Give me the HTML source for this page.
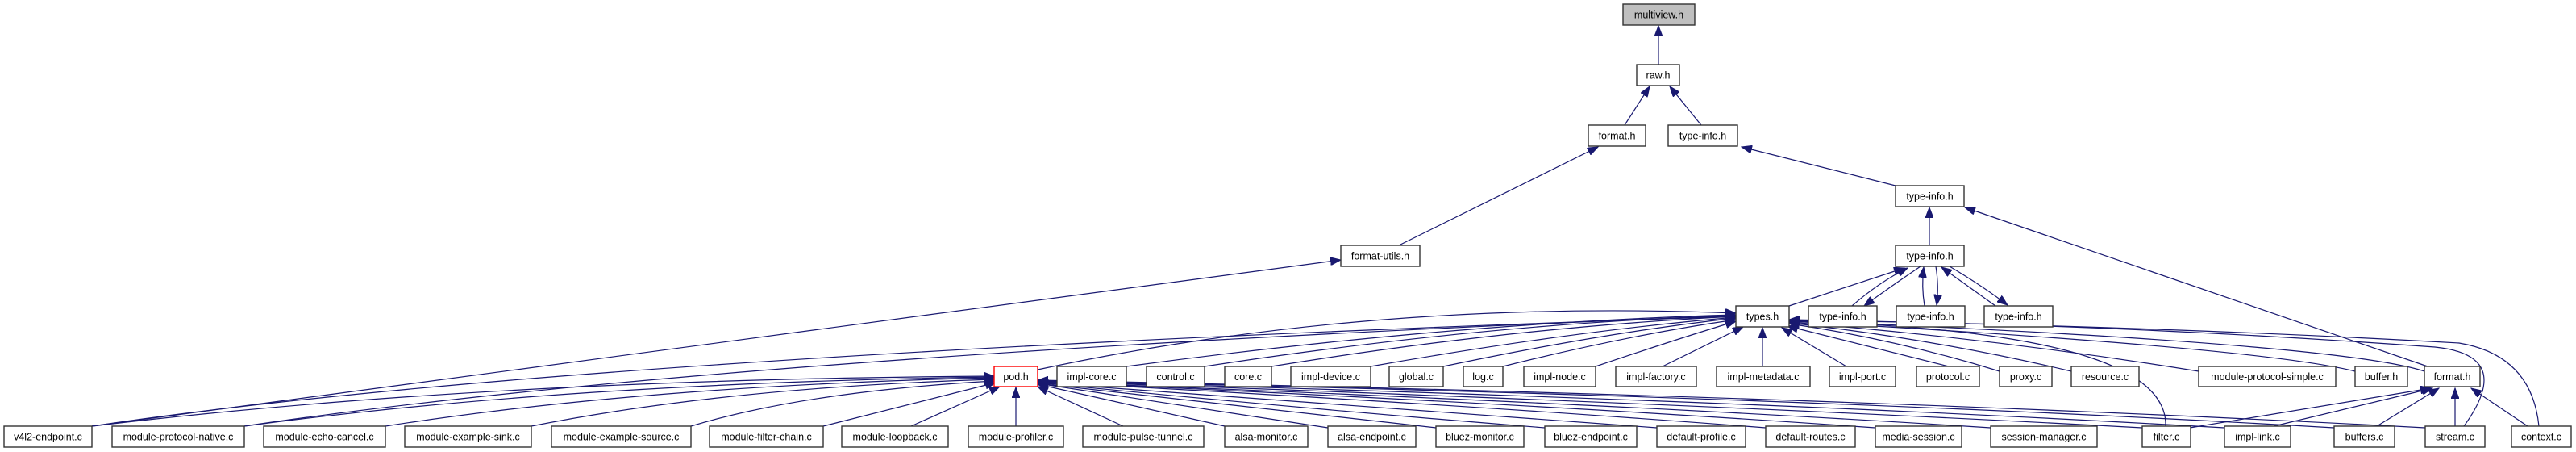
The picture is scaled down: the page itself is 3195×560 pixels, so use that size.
<!DOCTYPE html>
<html><head><meta charset="utf-8">
<style>
html,body{margin:0;padding:0;background:#fff;}
svg{display:block;}
text{font-family:"Liberation Sans",sans-serif;font-size:12.5px;fill:#000;text-anchor:middle;}
.n{fill:#fff;stroke:#333;stroke-width:1.4;}
.e{fill:none;stroke:#191970;stroke-width:1.2;}
</style></head><body>
<svg width="3195" height="560" viewBox="0 0 3195 560" xmlns="http://www.w3.org/2000/svg">
<defs>
<marker id="a" markerUnits="userSpaceOnUse" markerWidth="14" markerHeight="10" refX="13" refY="5" orient="auto">
<path d="M0,0 L13,5 L0,10 z" fill="#191970" stroke="#191970"/>
</marker>
</defs>
<g class="e" marker-end="url(#a)">
<!-- top -->
<path d="M2057,80 L2057,32"/>
<path d="M2015,155 L2046,107"/>
<path d="M2110,155 L2071,107"/>
<path d="M1735,304 L1982,182"/>
<path d="M2351,230 L2160,182"/>
<path d="M2393,304 L2393,257"/>
<path d="M3011,454 L2437,257"/>
<!-- types/type-info cluster -->
<path d="M2219,379 L2362,332"/>
<path d="M2297,379 Q2330,350 2366,332"/>
<path d="M2382,330 Q2345,355 2312,379"/>
<path d="M2387,379 Q2383,355 2386,331"/>
<path d="M2401,330 Q2405,355 2402,378"/>
<path d="M2475,379 L2408,331"/>
<path d="M2418,330 Q2460,355 2490,378"/>
<!-- pod -> types -->
<path d="M1287,458 Q1700,370 2153,388"/>
<!-- row7 -> types -->
<path d="M1397,454 Q1800,400 2153,390"/>
<path d="M1494,454 Q1850,400 2153,391"/>
<path d="M1577,454 Q1880,405 2153,392"/>
<path d="M1700,454 Q1950,410 2153,393"/>
<path d="M1790,454 Q1990,412 2153,394"/>
<path d="M1864,454 Q2020,415 2153,396"/>
<path d="M1979,454 Q2080,420 2153,398"/>
<path d="M2062,454 L2162,405"/>
<path d="M2186,454 L2186,406"/>
<path d="M2290,454 L2210,406"/>
<path d="M2417,454 L2217,404"/>
<path d="M2480,460 Q2350,420 2219,401"/>
<path d="M2569,460 Q2400,420 2219,400"/>
<path d="M2727,460 Q2480,420 2219,399"/>
<path d="M2921,460 Q2800,430 2219,398"/>
<path d="M3007,460 Q2900,425 2219,397"/>
<!-- bottom curves to types -->
<path d="M2686,528 Q2690,410 2219,398"/>
<path d="M3056,528 Q3120,440 3020,430 Q2600,400 2219,397"/>
<path d="M3149,528 Q3140,440 3050,425 Q2700,405 2219,396"/>
<path d="M114,528 Q700,440 2153,392"/>
<path d="M303,528 Q900,440 2153,391"/>
<!-- format-utils -->
<path d="M114,528 L1663,322"/>
<!-- bottom left -> pod -->
<path d="M114,528 Q600,470 1233,466"/>
<path d="M303,528 Q700,475 1233,467"/>
<path d="M478,528 Q800,478 1233,468"/>
<path d="M659,528 Q900,480 1233,470"/>
<path d="M857,528 Q1000,485 1233,472"/>
<path d="M1021,528 L1235,474"/>
<path d="M1130,528 L1240,479"/>
<path d="M1260,528 L1260,480"/>
<path d="M1393,528 L1287,479"/>
<!-- bottom right -> pod -->
<path d="M1519,528 L1287,476"/>
<path d="M1647,530 Q1450,500 1287,475"/>
<path d="M1781,530 Q1550,505 1287,475"/>
<path d="M1916,530 Q1600,505 1287,474"/>
<path d="M2055,530 Q1700,505 1287,474"/>
<path d="M2190,530 Q1800,500 1287,473"/>
<path d="M2326,530 Q1900,500 1287,473"/>
<path d="M2469,530 Q2000,500 1287,473"/>
<path d="M2657,530 Q2100,500 1287,472"/>
<path d="M2759,530 Q2150,495 1287,472"/>
<path d="M2895,530 Q2200,490 1287,472"/>
<path d="M3008,530 Q2250,490 1287,471"/>
<!-- -> format.h row7 -->
<path d="M2716,530 L3015,481"/>
<path d="M2820,528 L3017,481"/>
<path d="M2948,528 L3025,481"/>
<path d="M3045,528 L3045,481"/>
<path d="M3135,528 L3065,481"/>
</g>
<g>
<rect class="n" x="2013" y="5" width="89" height="26" style="fill:#bfbfbf"/><text x="2057.5" y="22.5">multiview.h</text>
<rect class="n" x="2030" y="80" width="53" height="26"/><text x="2056.5" y="97.5">raw.h</text>
<rect class="n" x="1970" y="155" width="71" height="26"/><text x="2005.5" y="172.5">format.h</text>
<rect class="n" x="2069" y="155" width="86" height="26"/><text x="2112" y="172.5">type-info.h</text>
<rect class="n" x="2351" y="230" width="85" height="26"/><text x="2393.5" y="247.5">type-info.h</text>
<rect class="n" x="1663" y="304" width="98" height="26"/><text x="1712" y="321.5">format-utils.h</text>
<rect class="n" x="2351" y="304" width="85" height="26"/><text x="2393.5" y="321.5">type-info.h</text>
<rect class="n" x="2153" y="379" width="66" height="26"/><text x="2186" y="396.5">types.h</text>
<rect class="n" x="2243" y="379" width="85" height="26"/><text x="2285.5" y="396.5">type-info.h</text>
<rect class="n" x="2352" y="379" width="85" height="26"/><text x="2394.5" y="396.5">type-info.h</text>
<rect class="n" x="2461" y="379" width="85" height="26"/><text x="2503.5" y="396.5">type-info.h</text>

<rect class="n" x="1233" y="454" width="54" height="25" style="stroke:#ff0000"/><text x="1260" y="471">pod.h</text>
<rect class="n" x="1311" y="454" width="86" height="25"/><text x="1354" y="471">impl-core.c</text>
<rect class="n" x="1422" y="454" width="72" height="25"/><text x="1458" y="471">control.c</text>
<rect class="n" x="1519" y="454" width="58" height="25"/><text x="1548" y="471">core.c</text>
<rect class="n" x="1601" y="454" width="99" height="25"/><text x="1650.5" y="471">impl-device.c</text>
<rect class="n" x="1723" y="454" width="67" height="25"/><text x="1756.5" y="471">global.c</text>
<rect class="n" x="1815" y="454" width="49" height="25"/><text x="1839.5" y="471">log.c</text>
<rect class="n" x="1890" y="454" width="89" height="25"/><text x="1934.5" y="471">impl-node.c</text>
<rect class="n" x="2004" y="454" width="100" height="25"/><text x="2054" y="471">impl-factory.c</text>
<rect class="n" x="2129" y="454" width="116" height="25"/><text x="2187" y="471">impl-metadata.c</text>
<rect class="n" x="2269" y="454" width="82" height="25"/><text x="2310" y="471">impl-port.c</text>
<rect class="n" x="2377" y="454" width="78" height="25"/><text x="2416" y="471">protocol.c</text>
<rect class="n" x="2480" y="454" width="65" height="25"/><text x="2512.5" y="471">proxy.c</text>
<rect class="n" x="2569" y="454" width="84" height="25"/><text x="2611" y="471">resource.c</text>
<rect class="n" x="2727" y="454" width="170" height="25"/><text x="2812" y="471">module-protocol-simple.c</text>
<rect class="n" x="2921" y="454" width="65" height="25"/><text x="2953.5" y="471">buffer.h</text>
<rect class="n" x="3007" y="454" width="69" height="25"/><text x="3041.5" y="471">format.h</text>

<rect class="n" x="5" y="528" width="109" height="26"/><text x="59.5" y="545.5">v4l2-endpoint.c</text>
<rect class="n" x="139" y="528" width="164" height="26"/><text x="221" y="545.5">module-protocol-native.c</text>
<rect class="n" x="327" y="528" width="151" height="26"/><text x="402.5" y="545.5">module-echo-cancel.c</text>
<rect class="n" x="502" y="528" width="157" height="26"/><text x="580.5" y="545.5">module-example-sink.c</text>
<rect class="n" x="684" y="528" width="173" height="26"/><text x="770.5" y="545.5">module-example-source.c</text>
<rect class="n" x="880" y="528" width="141" height="26"/><text x="950.5" y="545.5">module-filter-chain.c</text>
<rect class="n" x="1044" y="528" width="132" height="26"/><text x="1110" y="545.5">module-loopback.c</text>
<rect class="n" x="1201" y="528" width="118" height="26"/><text x="1260" y="545.5">module-profiler.c</text>
<rect class="n" x="1343" y="528" width="150" height="26"/><text x="1418" y="545.5">module-pulse-tunnel.c</text>
<rect class="n" x="1519" y="528" width="103" height="26"/><text x="1570.5" y="545.5">alsa-monitor.c</text>
<rect class="n" x="1647" y="528" width="109" height="26"/><text x="1701.5" y="545.5">alsa-endpoint.c</text>
<rect class="n" x="1781" y="528" width="109" height="26"/><text x="1835.5" y="545.5">bluez-monitor.c</text>
<rect class="n" x="1916" y="528" width="114" height="26"/><text x="1973" y="545.5">bluez-endpoint.c</text>
<rect class="n" x="2055" y="528" width="110" height="26"/><text x="2110" y="545.5">default-profile.c</text>
<rect class="n" x="2190" y="528" width="111" height="26"/><text x="2245.5" y="545.5">default-routes.c</text>
<rect class="n" x="2326" y="528" width="107" height="26"/><text x="2379.5" y="545.5">media-session.c</text>
<rect class="n" x="2469" y="528" width="132" height="26"/><text x="2535" y="545.5">session-manager.c</text>
<rect class="n" x="2657" y="528" width="60" height="26"/><text x="2687" y="545.5">filter.c</text>
<rect class="n" x="2759" y="528" width="82" height="26"/><text x="2800" y="545.5">impl-link.c</text>
<rect class="n" x="2895" y="528" width="75" height="26"/><text x="2932.5" y="545.5">buffers.c</text>
<rect class="n" x="3008" y="528" width="74" height="26"/><text x="3045" y="545.5">stream.c</text>
<rect class="n" x="3115" y="528" width="74" height="26"/><text x="3152" y="545.5">context.c</text>
</g>
</svg>
</body></html>
